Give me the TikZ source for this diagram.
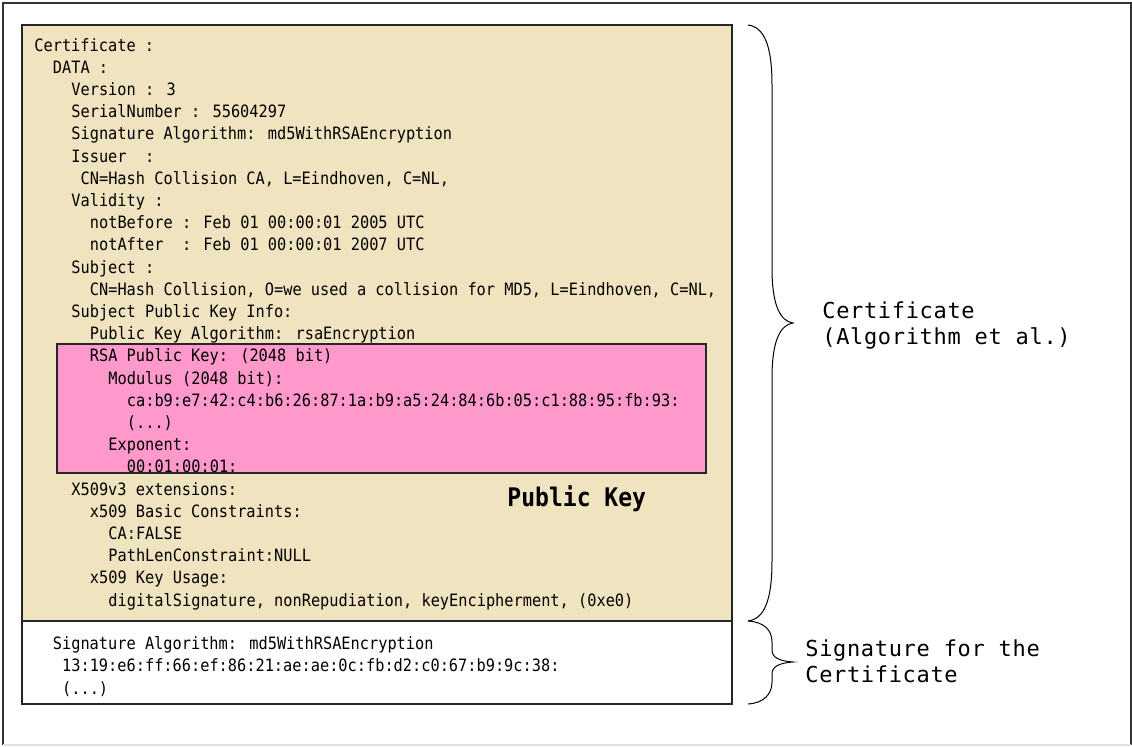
\documentclass[tikz,border=0pt]{standalone}
\usepackage{fontspec}
\usetikzlibrary{positioning}
\newfontfamily\certfont[FakeStretch=0.9]{DejaVu Sans Mono}
\newfontfamily\notefont[LetterSpace=3]{DejaVu Sans Mono}
\definecolor{certtan}{RGB}{240,227,192}
\definecolor{keypink}{RGB}{255,153,204}

\begin{document}
\begin{tikzpicture}[x=0.5pt,y=-0.5pt,
    txtline/.style={font=\certfont\fontsize{8.5}{10}\selectfont,anchor=base west,inner sep=0pt},
    note/.style={font=\notefont\fontsize{11}{13}\selectfont,anchor=base west,inner sep=0pt},
    box/.style={draw=black!85,line width=0.6pt},
    wbrace/.style={draw=black,line width=0.5pt}]
  \useasboundingbox (0,0) rectangle (1132,746);

  % frame
  \draw[black!80,line width=0.8pt] (3,745) -- (3,3) -- (1131,3) -- (1131,745);
  \draw[black!12,line width=0.8pt] (3,745) -- (1131,745);

  % boxes
  \draw[box,fill=certtan] (22,25) rectangle (732,621);
  \draw[box,fill=white] (22,621) rectangle (732,704);
  \draw[box,fill=keypink] (57,344) rectangle (706,473);

  % certificate data, indent in characters
  \foreach \i/\n/\txt in {
      0/0/{Certificate :},
      1/2/{DATA :},
      2/4/{Version : 3},
      3/4/{SerialNumber : 55604297},
      4/4/{Signature Algorithm: md5WithRSAEncryption},
      5/4/{Issuer\ \ :},
      6/5/{CN=Hash Collision CA, L=Eindhoven, C=NL,},
      7/4/{Validity :},
      8/6/{notBefore : Feb 01 00:00:01 2005 UTC},
      9/6/{notAfter\ \ : Feb 01 00:00:01 2007 UTC},
      10/4/{Subject :},
      11/6/{CN=Hash Collision, O=we used a collision for MD5, L=Eindhoven, C=NL,},
      12/4/{Subject Public Key Info:},
      13/6/{Public Key Algorithm: rsaEncryption},
      14/6/{RSA Public Key: (2048 bit)},
      15/8/{Modulus (2048 bit):},
      16/10/{ca:b9:e7:42:c4:b6:26:87:1a:b9:a5:24:84:6b:05:c1:88:95:fb:93:},
      17/10/{(...)},
      18/8/{Exponent:},
      19/10/{00:01:00:01:},
      20/4/{X509v3 extensions:},
      21/6/{x509 Basic Constraints:},
      22/8/{CA:FALSE},
      23/8/{PathLenConstraint:NULL},
      24/6/{x509 Key Usage:},
      25/8/{digitalSignature, nonRepudiation, keyEncipherment, (0xe0)}}
    \node[txtline] (c\i) at ({34+\n*9.25},{51+\i*22.2}) {\txt};

  % signature
  \node[txtline] (s0) at ({34+2*9.25},649) {Signature Algorithm: md5WithRSAEncryption};
  \node[txtline] (s1) at ({34+3*9.25},671.5) {13:19:e6:ff:66:ef:86:21:ae:ae:0c:fb:d2:c0:67:b9:9c:38:};
  \node[txtline] (s2) at ({34+3*9.25},694) {(...)};

  \node[txtline,font=\certfont\bfseries\fontsize{12.8}{15}\selectfont] (pubkey) at (507,506) {Public Key};

  % braces
  \draw[wbrace] (748,25) .. controls (764,27) and (772,45) .. (772,85)
    -- (772,268) .. controls (772,305) and (780,321) .. (793,323)
    .. controls (780,325) and (772,341) .. (772,378)
    -- (772,561) .. controls (772,601) and (764,619) .. (748,621);
  \draw[wbrace] (748,621) .. controls (764,622) and (772,630) .. (772,642)
    -- (772,650) .. controls (772,658) and (780,661) .. (793,662)
    .. controls (780,663) and (772,666) .. (772,674)
    -- (772,682) .. controls (772,694) and (764,703) .. (748,704);

  \node[note] (certlbl) at (822,318) {Certificate};
  \node[note,below=13pt of certlbl.base west,anchor=base west] (certlbl2) {(Algorithm et al.)};
  \node[note] (siglbl) at (805,656) {Signature for the};
  \node[note,below=13pt of siglbl.base west,anchor=base west] (siglbl2) {Certificate};
\end{tikzpicture}
\end{document}
